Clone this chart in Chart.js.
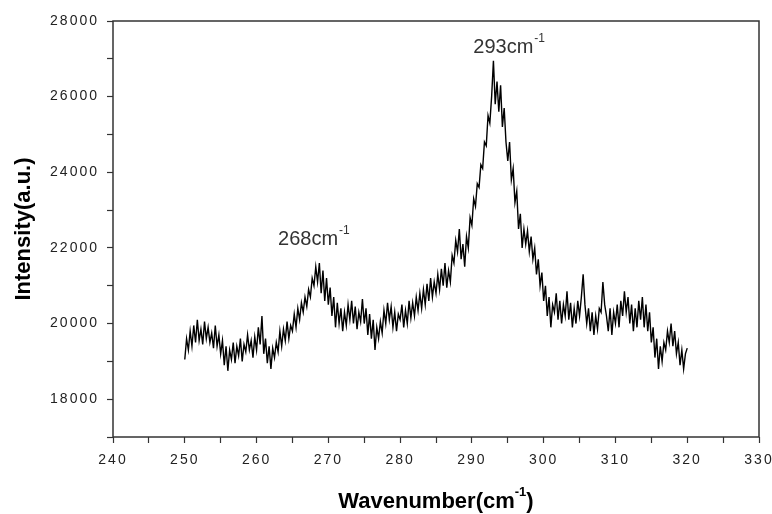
<!DOCTYPE html>
<html>
<head>
<meta charset="utf-8">
<script src="https://cdn.jsdelivr.net/npm/chart.js@4"></script>
<style>
  body { margin: 0; background: #fff; }
  #wrap { width: 772px; height: 514px; }
</style>
</head>
<body>
<div id="wrap"><canvas id="spectrum" width="772" height="514"></canvas></div>
<script>
const xStart = 250;
const xStep = 0.25;
const intensity = [
  // 250 - 254.75
  19050, 19600, 19300, 19800, 19400, 19950, 19500, 20100, 19550, 19850, 19450, 20050, 19600, 19900, 19500, 19750, 19350, 19950, 19400, 19700,
  // 255 - 259.75
  19200, 19550, 18900, 19400, 18750, 19300, 19050, 19500, 18950, 19400, 19150, 19600, 19000, 19450, 19250, 19700, 19300, 19550, 19100, 19650,
  // 260 - 264.75
  19300, 19900, 19450, 20200, 19200, 19600, 18950, 19400, 18800, 19350, 19100, 19500, 19250, 19800, 19400, 19850, 19550, 20050, 19600, 19950,
  // 265 - 269.75
  19800, 20250, 19900, 20400, 20100, 20550, 20300, 20700, 20450, 20900, 20700, 21200, 21000, 21500, 21100, 21600, 20800, 21400, 20600, 21200,
  // 270 - 274.75
  20500, 20950, 20200, 20700, 19900, 20550, 20000, 20400, 19800, 20300, 19950, 20500, 20100, 20600, 20000, 20450, 19850, 20300, 20050, 20650,
  // 275 - 279.75
  20000, 20400, 19700, 20250, 19600, 20100, 19300, 19900, 19600, 20050, 19750, 20350, 20000, 20550, 20100, 20450, 19900, 20300, 19800, 20250,
  // 280 - 284.75
  20100, 20500, 19900, 20350, 20000, 20600, 20150, 20550, 20200, 20700, 20350, 20800, 20400, 20900, 20500, 21050, 20600, 21200, 20700, 21100,
  // 285 - 289.75
  20800, 21300, 20900, 21450, 21000, 21600, 20950, 21400, 21100, 21800, 21600, 22200, 21900, 22500, 21700, 22100, 21500, 22300, 22000, 22800,
  // 290 - 294.75
  22600, 23300, 23100, 23700, 23600, 24200, 24100, 24800, 24700, 25500, 25300, 26000, 26950, 25800, 26400, 25600, 26300, 25200, 25700, 24800,
  // 295 - 299.75
  24300, 24800, 23800, 24100, 23200, 23500, 22500, 22900, 22000, 22500, 22100, 22450, 21900, 22300, 21700, 22000, 21300, 21700, 21000, 21350,
  // 300 - 304.75
  20600, 21000, 20200, 20700, 19900, 20500, 20300, 20800, 20100, 20600, 20000, 20500, 20200, 20850, 20100, 20550, 19900, 20400, 20000, 20600,
  // 305 - 309.75
  20200, 20700, 21300, 20500, 20000, 20400, 19800, 20300, 19700, 20200, 19850, 20400, 20300, 21100, 20500, 20200, 19800, 20400, 19700, 20300,
  // 310 - 314.75
  20000, 20500, 19900, 20600, 20200, 20850, 20300, 20700, 20000, 20500, 19800, 20400, 19900, 20600, 20100, 20700, 19900, 20500, 19800, 20300,
  // 315 - 319.75
  19500, 19900, 19100, 19600, 18800, 19400, 19000, 19500, 19300, 19800, 19500, 20000, 19400, 19800, 19200, 19500, 18900, 19300, 18800, 19200,
  // 320
  19350
];

// peak labels, placed in data units
const peakLabels = ['268cm', '293cm'];
const peakLabelX = [263, 290.2];
const peakLabelY = [22070, 27150];

const points = intensity.map((v, i) => ({ x: xStart + i * xStep, y: v }));

// draws frame, axis titles and peak labels (with superscript -1)
const decorations = {
  id: 'decorations',
  beforeDraw(chart) {
    chart.ctx.letterSpacing = '2px';
  },
  afterDraw(chart) {
    const ctx = chart.ctx;
    const area = chart.chartArea;
    const xs = chart.scales.x, ys = chart.scales.y;
    ctx.save();
    ctx.letterSpacing = '0px';
    ctx.strokeStyle = '#333';
    ctx.lineWidth = 1.5;
    ctx.strokeRect(area.left, area.top, area.right - area.left, area.bottom - area.top);

    ctx.fillStyle = '#333';
    ctx.textBaseline = 'alphabetic';
    ctx.textAlign = 'left';
    for (let i = 0; i < peakLabels.length; i++) {
      const px = xs.getPixelForValue(peakLabelX[i]);
      const py = ys.getPixelForValue(peakLabelY[i]);
      ctx.font = '20px "Liberation Sans", Arial, sans-serif';
      ctx.fillText(peakLabels[i], px, py);
      const w = ctx.measureText(peakLabels[i]).width;
      ctx.font = '12px "Liberation Sans", Arial, sans-serif';
      ctx.fillText('-1', px + w + 1, py - 11);
    }

    // x title
    ctx.fillStyle = '#000';
    const xt = 'Wavenumber(cm';
    ctx.font = 'bold 22px "Liberation Sans", Arial, sans-serif';
    const w1 = ctx.measureText(xt).width;
    ctx.font = 'bold 13px "Liberation Sans", Arial, sans-serif';
    const w2 = ctx.measureText('-1').width;
    ctx.font = 'bold 22px "Liberation Sans", Arial, sans-serif';
    const w3 = ctx.measureText(')').width;
    const cx = (area.left + area.right) / 2;
    let sx = cx - (w1 + w2 + w3) / 2;
    const by = 508;
    ctx.fillText(xt, sx, by);
    ctx.font = 'bold 13px "Liberation Sans", Arial, sans-serif';
    ctx.fillText('-1', sx + w1, by - 12);
    ctx.font = 'bold 22px "Liberation Sans", Arial, sans-serif';
    ctx.fillText(')', sx + w1 + w2, by);

    // y title
    ctx.translate(30, (area.top + area.bottom) / 2);
    ctx.rotate(-Math.PI / 2);
    ctx.textAlign = 'center';
    ctx.fillText('Intensity(a.u.)', 0, 0);
    ctx.restore();
  }
};

new Chart(document.getElementById('spectrum'), {
  type: 'line',
  data: {
    datasets: [{
      data: points,
      borderColor: '#000',
      borderWidth: 1.4,
      pointRadius: 0,
      tension: 0,
      fill: false
    }]
  },
  options: {
    responsive: false,
    devicePixelRatio: 1,
    animation: false,
    layout: { padding: { top: 21, right: 13, left: 0, bottom: 0 } },
    plugins: {
      legend: { display: false },
      tooltip: { enabled: false }
    },
    scales: {
      x: {
        type: 'linear',
        min: 240,
        max: 330,
        border: { display: false },
        grid: { drawOnChartArea: false, drawTicks: true, tickLength: 6, color: '#333', tickWidth: 1.2 },
        ticks: {
          stepSize: 5,
          autoSkip: false,
          maxRotation: 0,
          padding: 9,
          color: '#222',
          font: { family: '"Liberation Sans", Arial, sans-serif', size: 14 },
          callback: v => (v % 10 === 0 ? String(v) : '')
        },
        afterFit: s => { s.height = 77; s.paddingRight = 0; s.paddingLeft = 0; }
      },
      y: {
        min: 17000,
        max: 28000,
        border: { display: false },
        grid: { drawOnChartArea: false, drawTicks: true, tickLength: 6, color: '#333', tickWidth: 1.2 },
        ticks: {
          stepSize: 1000,
          autoSkip: false,
          padding: 8,
          color: '#222',
          font: { family: '"Liberation Sans", Arial, sans-serif', size: 14 },
          callback: v => (v % 2000 === 0 ? String(v) : '')
        },
        afterFit: s => { s.width = 113; }
      }
    }
  },
  plugins: [decorations]
});
</script>
</body>
</html>
